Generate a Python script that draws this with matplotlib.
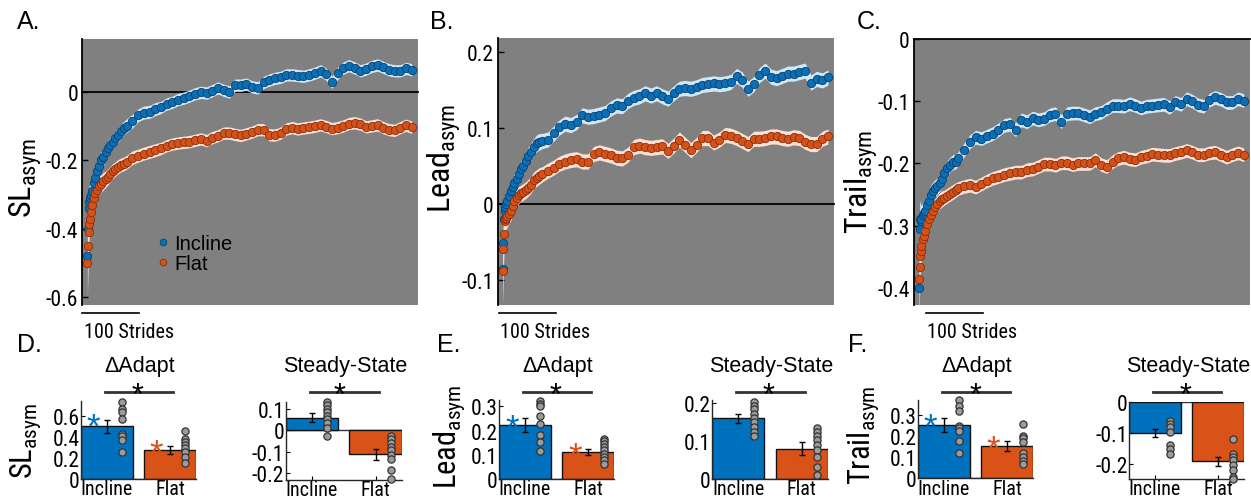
import numpy as np
import matplotlib
matplotlib.use("Agg")
import matplotlib.pyplot as plt
import matplotlib.transforms as mtransforms
from matplotlib import font_manager

# ---------------- data ----------------
STRIDES = [1, 2, 3, 4, 5, 7, 9, 12, 15, 18, 21, 25, 29, 33, 37, 41, 45, 50, 55, 60, 65,
           70, 80, 90, 100, 110, 120, 130, 140, 150, 160, 170, 180, 190, 200, 210, 220,
           230, 240, 250, 260, 270, 280, 290, 300, 310, 320, 330, 340, 350, 360, 370,
           380, 390, 400, 410, 420, 430, 440, 450, 460, 470, 480, 490, 500, 510, 520,
           530, 540, 550, 560, 570]

SL_INCLINE = [-0.48, -0.40, -0.34, -0.32, -0.31, -0.30, -0.29, -0.265, -0.25, -0.23, -0.215,
              -0.20, -0.19, -0.175, -0.165, -0.155, -0.145, -0.135, -0.125, -0.115, -0.105,
              -0.098, -0.085, -0.068, -0.06, -0.058, -0.05, -0.045, -0.035, -0.03, -0.022,
              -0.018, -0.012, -0.005, -0.001, -0.003, 0.004, 0.012, 0.005, 0.0, 0.02, 0.02,
              0.023, 0.015, 0.012, 0.028, 0.035, 0.04, 0.043, 0.05, 0.05, 0.048, 0.046, 0.05,
              0.055, 0.062, 0.052, 0.028, 0.055, 0.07, 0.077, 0.07, 0.062, 0.067, 0.075,
              0.079, 0.072, 0.065, 0.062, 0.062, 0.069, 0.065]
SL_FLAT = [-0.50, -0.45, -0.41, -0.385, -0.37, -0.35, -0.33, -0.31, -0.295, -0.285, -0.275,
           -0.268, -0.26, -0.255, -0.248, -0.24, -0.232, -0.225, -0.218, -0.213, -0.21,
           -0.205, -0.192, -0.186, -0.18, -0.175, -0.17, -0.165, -0.157, -0.152, -0.149,
           -0.147, -0.145, -0.141, -0.137, -0.142, -0.133, -0.128, -0.12, -0.12, -0.124,
           -0.127, -0.122, -0.117, -0.11, -0.11, -0.125, -0.126, -0.12, -0.108, -0.104,
           -0.108, -0.105, -0.103, -0.1, -0.096, -0.101, -0.107, -0.104, -0.099, -0.092,
           -0.09, -0.094, -0.102, -0.099, -0.096, -0.104, -0.11, -0.112, -0.104, -0.097, -0.103]
SL_SE = [0.10, 0.07, 0.05, 0.045, 0.04, 0.035, 0.032, 0.03, 0.029, 0.028, 0.027, 0.026,
         0.025, 0.024, 0.023, 0.022, 0.022, 0.021, 0.021, 0.02, 0.02, 0.02, 0.02, 0.019,
         0.019, 0.019, 0.019, 0.018, 0.018, 0.018, 0.018, 0.018, 0.018, 0.018, 0.018,
         0.018, 0.018, 0.018, 0.018, 0.018, 0.018, 0.018, 0.018, 0.018, 0.018, 0.018,
         0.018, 0.018, 0.018, 0.018, 0.018, 0.018, 0.018, 0.018, 0.018, 0.018, 0.018,
         0.018, 0.018, 0.018, 0.018, 0.018, 0.018, 0.018, 0.018, 0.018, 0.018, 0.018,
         0.018, 0.018, 0.018, 0.018]

LEAD_INCLINE = [-0.086, -0.051, -0.02, -0.009, -0.004, 0.0, 0.004, 0.011, 0.017, 0.022, 0.027,
                0.033, 0.04, 0.046, 0.05, 0.057, 0.063, 0.069, 0.075, 0.08, 0.082, 0.083,
                0.085, 0.093, 0.101, 0.106, 0.104, 0.108, 0.117, 0.115, 0.116, 0.118, 0.12,
                0.126, 0.13, 0.129, 0.136, 0.14, 0.142, 0.146, 0.143, 0.146, 0.142, 0.139,
                0.146, 0.152, 0.153, 0.152, 0.154, 0.157, 0.158, 0.159, 0.158, 0.159, 0.161,
                0.169, 0.164, 0.152, 0.158, 0.17, 0.176, 0.168, 0.166, 0.169, 0.172, 0.172,
                0.174, 0.176, 0.16, 0.165, 0.163, 0.167]
LEAD_FLAT = [-0.088, -0.06, -0.04, -0.023, -0.02, -0.018, -0.016, -0.013, -0.009, -0.003,
             0.004, 0.008, 0.012, 0.014, 0.016, 0.018, 0.021, 0.025, 0.031, 0.034, 0.037,
             0.039, 0.044, 0.048, 0.053, 0.056, 0.058, 0.059, 0.056, 0.056, 0.066, 0.068,
             0.066, 0.064, 0.061, 0.06, 0.065, 0.075, 0.077, 0.075, 0.074, 0.075, 0.076,
             0.07, 0.077, 0.085, 0.078, 0.071, 0.078, 0.087, 0.087, 0.081, 0.085, 0.091,
             0.09, 0.087, 0.083, 0.079, 0.086, 0.086, 0.087, 0.089, 0.089, 0.087, 0.086,
             0.088, 0.087, 0.082, 0.079, 0.079, 0.086, 0.089]
LEAD_SE = [0.045, 0.03, 0.022, 0.018, 0.016, 0.015, 0.014, 0.013, 0.013, 0.012, 0.012,
           0.012, 0.011, 0.011, 0.011, 0.011, 0.011, 0.011, 0.011, 0.011, 0.011, 0.01,
           0.01, 0.01, 0.01, 0.01, 0.01, 0.01, 0.01, 0.01, 0.01, 0.01, 0.01, 0.01, 0.01,
           0.01, 0.01, 0.01, 0.01, 0.01, 0.01, 0.01, 0.01, 0.01, 0.01, 0.01, 0.01, 0.01,
           0.01, 0.01, 0.01, 0.01, 0.01, 0.01, 0.01, 0.01, 0.01, 0.01, 0.01, 0.01, 0.01,
           0.01, 0.01, 0.01, 0.01, 0.01, 0.01, 0.01, 0.01, 0.01, 0.01, 0.01]

TRAIL_INCLINE = [-0.40, -0.305, -0.29, -0.292, -0.289, -0.283, -0.28, -0.276, -0.267, -0.26,
                 -0.25, -0.244, -0.24, -0.237, -0.232, -0.225, -0.215, -0.208, -0.202,
                 -0.198, -0.197, -0.192, -0.178, -0.165, -0.158, -0.16, -0.156, -0.152,
                 -0.146, -0.139, -0.137, -0.146, -0.13, -0.133, -0.127, -0.13, -0.128,
                 -0.122, -0.12, -0.133, -0.12, -0.119, -0.119, -0.122, -0.125, -0.12,
                 -0.118, -0.112, -0.107, -0.107, -0.108, -0.104, -0.107, -0.111, -0.108,
                 -0.107, -0.106, -0.105, -0.11, -0.102, -0.105, -0.096, -0.1, -0.106,
                 -0.108, -0.098, -0.094, -0.097, -0.102, -0.102, -0.096, -0.099]
TRAIL_FLAT = [-0.385, -0.366, -0.348, -0.34, -0.332, -0.322, -0.316, -0.308, -0.298, -0.29,
              -0.283, -0.276, -0.27, -0.265, -0.26, -0.257, -0.255, -0.252, -0.249, -0.246,
              -0.243, -0.24, -0.237, -0.235, -0.238, -0.233, -0.228, -0.224, -0.221,
              -0.218, -0.216, -0.214, -0.214, -0.21, -0.209, -0.205, -0.201, -0.201,
              -0.203, -0.199, -0.199, -0.202, -0.2, -0.2, -0.2, -0.194, -0.202, -0.205,
              -0.197, -0.192, -0.19, -0.193, -0.194, -0.19, -0.188, -0.185, -0.186,
              -0.187, -0.187, -0.184, -0.182, -0.179, -0.182, -0.186, -0.186, -0.183,
              -0.182, -0.186, -0.19, -0.186, -0.183, -0.186]
TRAIL_SE = [0.06, 0.04, 0.03, 0.025, 0.022, 0.02, 0.018, 0.017, 0.016, 0.015, 0.015,
            0.014, 0.014, 0.013, 0.013, 0.013, 0.012, 0.012, 0.012, 0.012, 0.012, 0.011,
            0.011, 0.011, 0.011, 0.011, 0.011, 0.011, 0.011, 0.011, 0.011, 0.011, 0.011,
            0.011, 0.011, 0.011, 0.011, 0.011, 0.011, 0.011, 0.011, 0.011, 0.011, 0.011,
            0.011, 0.011, 0.011, 0.011, 0.011, 0.011, 0.011, 0.011, 0.011, 0.011, 0.011,
            0.011, 0.011, 0.011, 0.011, 0.011, 0.011, 0.011, 0.011, 0.011, 0.011, 0.011,
            0.011, 0.011, 0.011, 0.011, 0.011, 0.011]

CATEGORIES = ["Incline", "Flat"]

SL_ADAPT = [0.50, 0.278]
SL_ADAPT_SE = [0.062, 0.038]
SL_ADAPT_INC_DOTS = [0.73, 0.66, 0.64, 0.572, 0.428, 0.409, 0.369, 0.253]
SL_ADAPT_FLAT_DOTS = [0.453, 0.384, 0.353, 0.322, 0.29, 0.253, 0.21, 0.15]
SL_SS = [0.06, -0.112]
SL_SS_SE = [0.02, 0.026]
SL_SS_INC_DOTS = [0.134, 0.118, 0.10, 0.085, 0.066, 0.054, 0.035, 0.011, -0.026]
SL_SS_FLAT_DOTS = [-0.026, -0.043, -0.062, -0.08, -0.095, -0.115, -0.135, -0.185, -0.231]

LEAD_ADAPT = [0.224, 0.112]
LEAD_ADAPT_SE = [0.029, 0.013]
LEAD_ADAPT_INC_DOTS = [0.323, 0.31, 0.30, 0.262, 0.225, 0.183, 0.153, 0.115]
LEAD_ADAPT_FLAT_DOTS = [0.166, 0.156, 0.145, 0.132, 0.119, 0.105, 0.091, 0.078, 0.06]
LEAD_SS = [0.16, 0.08]
LEAD_SS_SE = [0.012, 0.018]
LEAD_SS_INC_DOTS = [0.202, 0.193, 0.184, 0.171, 0.16, 0.15, 0.137, 0.124, 0.112]
LEAD_SS_FLAT_DOTS = [0.134, 0.123, 0.113, 0.102, 0.089, 0.076, 0.058, 0.032, 0.01]

TRAIL_ADAPT = [0.253, 0.152]
TRAIL_ADAPT_SE = [0.033, 0.024]
TRAIL_ADAPT_INC_DOTS = [0.371, 0.344, 0.32, 0.25, 0.237, 0.226, 0.178, 0.12]
TRAIL_ADAPT_FLAT_DOTS = [0.26, 0.202, 0.19, 0.174, 0.12, 0.10, 0.084, 0.068]
TRAIL_SS = [-0.10, -0.193]
TRAIL_SS_SE = [0.013, 0.015]
TRAIL_SS_INC_DOTS = [-0.061, -0.072, -0.083, -0.098, -0.141, -0.154, -0.168]
TRAIL_SS_FLAT_DOTS = [-0.122, -0.168, -0.179, -0.189, -0.205, -0.221, -0.243, -0.25]

# ---------------- style ----------------
W, H = 1251, 502
avail = {f.name for f in font_manager.fontManager.ttflist}
NARROW = "Liberation Sans"
K = 0.86  # size factor when no narrow face is installed
for cand in ("Liberation Sans Narrow", "Arial Narrow", "Roboto Condensed",
             "Archivo Narrow", "PT Sans Narrow", "IBM Plex Sans Condensed"):
    if cand in avail:
        NARROW = cand
        K = 1.0
        break
REG = "Liberation Sans"
plt.rcParams["font.family"] = [NARROW, "DejaVu Sans"]
plt.rcParams["mathtext.fontset"] = "custom"
plt.rcParams["mathtext.rm"] = NARROW
plt.rcParams["mathtext.it"] = NARROW
plt.rcParams["mathtext.bf"] = NARROW

BLUE = "#0b6fb5"
BLUE_EDGE = "#0a3f6e"
ORANGE = "#d4521a"
ORANGE_EDGE = "#8a2e0a"
BLUE_BAND = "#cfe8f7"
ORANGE_BAND = "#fce0d4"
BAR_BLUE = "#0072BD"
BAR_ORANGE = "#D95319"

fig = plt.figure(figsize=(W / 100, H / 100), dpi=100)


def add_ax(l, r, t, b):
    return fig.add_axes([l / W, 1 - b / H, (r - l) / W, (b - t) / H])


def ftext(x, y, s, **kw):
    return fig.text(x / W, 1 - y / H, s, **kw)


def star(x, yc, color="black", fs=23):
    # place glyph centre at (x, yc) pixels
    ftext(x, yc + 0.575 * fs * 100 / 72, "*", color=color, fontsize=fs,
          ha="center", va="baseline", family=REG)


x = np.array(STRIDES)


def series_panel(rect, inc, flat, se, ylim, yticks, yticklabels, bar_x0):
    ax = add_ax(*rect)
    ax.set_facecolor("#808080")
    for s in ("top", "right", "bottom"):
        ax.spines[s].set_visible(False)
    ax.spines["left"].set_color("black")
    ax.spines["left"].set_linewidth(1.3)
    inc = np.array(inc)
    flat = np.array(flat)
    se = np.array(se)
    ax.axhline(0, color="black", lw=1.3, zorder=1, clip_on=False)
    ax.fill_between(x, inc - se, inc + se, color=BLUE_BAND, lw=0, zorder=2)
    ax.fill_between(x, flat - se, flat + se, color=ORANGE_BAND, lw=0, zorder=2)
    ax.plot(x, inc, "o", ms=6.0, mfc=BLUE, mec=BLUE_EDGE, mew=0.6, zorder=3,
            label="Incline")
    ax.plot(x, flat, "o", ms=6.0, mfc=ORANGE, mec=ORANGE_EDGE, mew=0.6, zorder=4,
            label="Flat")
    ax.set_xlim(-8, 581)
    ax.set_ylim(*ylim)
    ax.set_xticks([])
    ax.set_yticks(yticks, yticklabels)
    ax.tick_params(axis="y", direction="in", length=4, width=1, labelsize=15.5 * K,
                   pad=3, color="black")
    # scale bar (100 strides)
    tr = mtransforms.blended_transform_factory(ax.transData, ax.transAxes)
    ax.plot([bar_x0, bar_x0 + 100], [-0.03, -0.03], color="black", lw=1.2,
            transform=tr, clip_on=False)
    return ax


axA = series_panel((82.3, 418, 40, 306), SL_INCLINE, SL_FLAT, SL_SE, (-0.6225, 0.155),
                   [-0.6, -0.4, -0.2, 0], ["-0.6", "-0.4", "-0.2", "0"], -8)
axB = series_panel((497.7, 834.3, 39, 305.7), LEAD_INCLINE, LEAD_FLAT, LEAD_SE,
                   (-0.133, 0.219), [-0.1, 0, 0.1, 0.2], ["-0.1", "0", "0.1", "0.2"], -6)
axC = series_panel((914, 1250, 40, 305.7), TRAIL_INCLINE, TRAIL_FLAT, TRAIL_SE,
                   (-0.427, 0.0), [-0.4, -0.3, -0.2, -0.1, 0],
                   ["-0.4", "-0.3", "-0.2", "-0.1", "0"], 13)

leg = axA.legend(loc="upper left", bbox_to_anchor=(0.222, 0.268), frameon=False,
                 handlelength=0.6, handletextpad=0.25, labelspacing=0.05,
                 borderaxespad=0, borderpad=0, markerscale=0.8,
                 prop={"family": REG, "size": 14.5})

for xt in (83.5, 500, 927.3):
    ftext(xt, 338.5, "100 Strides", fontsize=14.5 * K, va="baseline", ha="left")

# y labels for top row
ftext(26, 178, r"SL$_{\mathrm{asym}}$", rotation=90, ha="center", va="center", fontsize=23 * K)
ftext(444, 158, r"Lead$_{\mathrm{asym}}$", rotation=90, ha="center", va="center", fontsize=23 * K)
ftext(861, 182, r"Trail$_{\mathrm{asym}}$", rotation=90, ha="center", va="center", fontsize=23 * K)

# panel letters
for lx, ly, s in ((16.7, 29.3, "A."), (430, 29.3, "B."), (856.7, 29.3, "C."),
                  (16.7, 351.7, "D."), (436.7, 351.7, "E."), (848.3, 351.7, "F.")):
    ftext(lx, ly, s, fontsize=18, va="baseline", ha="left", family=REG)


def bar_panel(rect, vals, errs, inc_dots, flat_dots, ylim, yticks, yticklabels, title):
    ax = add_ax(*rect)
    pos = [1, 2]
    ax.axhline(0, color="#333333", lw=1, zorder=1)
    ax.bar(pos, vals, width=0.82, color=[BAR_BLUE, BAR_ORANGE], edgecolor="#111111",
           lw=1, zorder=2)
    ax.errorbar(pos, vals, yerr=errs, fmt="none", ecolor="black", elinewidth=1,
                capsize=2, capthick=1, zorder=3)
    ax.scatter([1.24] * len(inc_dots), inc_dots, s=27, c="#9b9b9b",
               edgecolors="#333333", linewidths=0.9, zorder=4, clip_on=False)
    ax.scatter([2.24] * len(flat_dots), flat_dots, s=27, c="#9b9b9b",
               edgecolors="#333333", linewidths=0.9, zorder=4, clip_on=False)
    ax.set_xlim(0.59, 2.41)
    ax.set_ylim(*ylim)
    for s in ("top", "right"):
        ax.spines[s].set_visible(False)
    for s in ("left", "bottom"):
        ax.spines[s].set_color("#262626")
        ax.spines[s].set_linewidth(1)
    ax.set_xticks(pos, CATEGORIES)
    ax.set_yticks(yticks, yticklabels)
    ax.tick_params(axis="x", direction="in", length=3, labelsize=14.5 * K, pad=0.3)
    ax.tick_params(axis="y", direction="in", length=3, labelsize=15.5 * K, pad=1)
    # significance bracket
    tr = mtransforms.blended_transform_factory(ax.transData, ax.transAxes)
    top_px = rect[2]
    bot_px = rect[3]
    yline = (bot_px - 393.3) / (bot_px - top_px)
    ax.plot([0.97, 2.05], [yline, yline], color="#333333", lw=2, transform=tr,
            clip_on=False)
    cx = (rect[0] + rect[1]) / 2
    ftext(cx + 1.5, 372, title, fontsize=15.5, ha="center", va="baseline", family=REG)
    return ax


bar_panel((81, 196, 402, 480), SL_ADAPT, SL_ADAPT_SE, SL_ADAPT_INC_DOTS, SL_ADAPT_FLAT_DOTS,
          (0, 0.74), [0, 0.2, 0.4, 0.6], ["0", "0.2", "0.4", "0.6"], "\u0394Adapt")
bar_panel((285.7, 401.7, 402.7, 480.5), SL_SS, SL_SS_SE, SL_SS_INC_DOTS, SL_SS_FLAT_DOTS,
          (-0.232, 0.135), [-0.2, -0.1, 0, 0.1], ["-0.2", "-0.1", "0", "0.1"], "Steady-State")
bar_panel((498.7, 614.3, 401, 480), LEAD_ADAPT, LEAD_ADAPT_SE, LEAD_ADAPT_INC_DOTS,
          LEAD_ADAPT_FLAT_DOTS, (0, 0.326), [0, 0.1, 0.2, 0.3], ["0", "0.1", "0.2", "0.3"],
          "\u0394Adapt")
bar_panel((712.3, 827.7, 401, 480), LEAD_SS, LEAD_SS_SE, LEAD_SS_INC_DOTS, LEAD_SS_FLAT_DOTS,
          (0, 0.208), [0, 0.1, 0.2], ["0", "0.1", "0.2"], "Steady-State")
bar_panel((917.7, 1033.3, 400.7, 479.3), TRAIL_ADAPT, TRAIL_ADAPT_SE, TRAIL_ADAPT_INC_DOTS,
          TRAIL_ADAPT_FLAT_DOTS, (0, 0.373), [0, 0.1, 0.2, 0.3], ["0", "0.1", "0.2", "0.3"],
          "\u0394Adapt")
bar_panel((1129, 1244, 402.7, 480), TRAIL_SS, TRAIL_SS_SE, TRAIL_SS_INC_DOTS,
          TRAIL_SS_FLAT_DOTS, (-0.25, 0), [-0.2, -0.1, 0], ["-0.2", "-0.1", "0"],
          "Steady-State")

# bottom y labels
ftext(26, 441, r"SL$_{\mathrm{asym}}$", rotation=90, ha="center", va="center", fontsize=22 * K)
ftext(449, 437, r"Lead$_{\mathrm{asym}}$", rotation=90, ha="center", va="center", fontsize=22 * K)
ftext(863, 435, r"Trail$_{\mathrm{asym}}$", rotation=90, ha="center", va="center", fontsize=22 * K)

# significance stars
for sx in (137.7, 340, 556, 768.3, 975, 1185):
    star(sx, 387, fs=22)
star(93, 417.3, BAR_BLUE, fs=25)
star(156, 443.3, BAR_ORANGE, fs=25)
star(511.7, 418.3, BAR_BLUE, fs=25)
star(575, 446.7, BAR_ORANGE, fs=25)
star(930, 417.3, BAR_BLUE, fs=25)
star(993.3, 440, BAR_ORANGE, fs=25)

fig.savefig("out.png", dpi=100)
